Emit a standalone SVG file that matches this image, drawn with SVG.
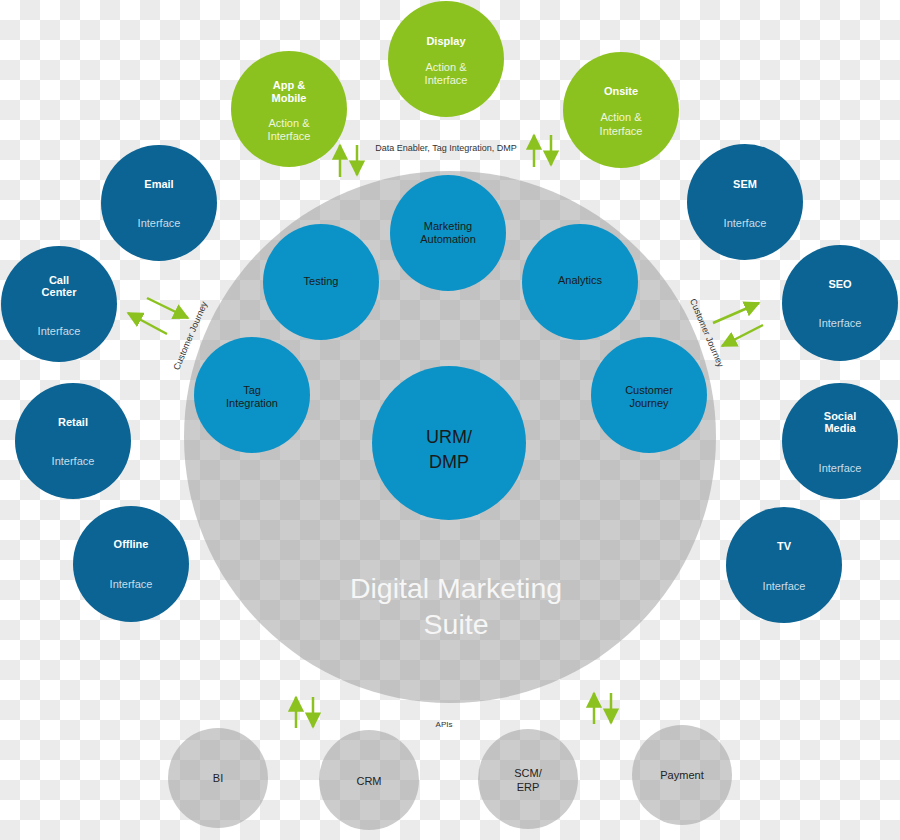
<svg xmlns="http://www.w3.org/2000/svg" width="900" height="840" viewBox="0 0 900 840">
<defs>
<pattern id="checker" x="0" y="0" width="40" height="40" patternUnits="userSpaceOnUse">
<rect width="40" height="40" fill="#ffffff"/>
<rect x="20" y="0" width="20" height="20" fill="#ebebeb"/>
<rect x="0" y="20" width="20" height="20" fill="#ebebeb"/>
</pattern>
<marker id="ah" viewBox="0 0 10 10" refX="9" refY="5" markerWidth="6.5" markerHeight="6.5" orient="auto" markerUnits="strokeWidth">
<path d="M0,0 L10,5 L0,10 z" fill="#8cc21f"/>
</marker>
<style>
text{font-family:"Liberation Sans",Arial,sans-serif;text-anchor:middle}
.suite{fill:#999999;opacity:0.5}
.inner{fill:#0b93c7}
.dark{fill:#0b6493}
.green{fill:#8cc21f}
.sys{fill:#999999;opacity:0.5}
.t-in{font-size:11px;fill:#1a1a1a}
.t-dt{font-size:11px;font-weight:bold;fill:#ffffff}
.t-ds{font-size:11px;fill:#c9dde9}
.t-gt{font-size:11px;font-weight:bold;fill:#ffffff}
.t-gs{font-size:11px;fill:#eef6dc}
.t-sys{font-size:11px;fill:#222222}
.t-lab{font-size:9px;fill:#333333}
.arr{stroke:#8cc21f;stroke-width:2.5;fill:none;marker-end:url(#ah)}
</style>
</defs>
<rect width="900" height="840" fill="url(#checker)"/>

<g id="suite">
<circle class="suite" cx="450" cy="437" r="266"/>
<text x="456" y="598" style="font-size:28.5px;fill:#f6f6f6">Digital Marketing</text>
<text x="456" y="634" style="font-size:28.5px;fill:#f6f6f6">Suite</text>
</g>

<g id="marketing-automation"><circle class="inner" cx="448" cy="233" r="58"/><text class="t-in" x="448" y="230">Marketing</text><text class="t-in" x="448" y="243">Automation</text></g>
<g id="testing"><circle class="inner" cx="321" cy="282" r="58"/><text class="t-in" x="321" y="285">Testing</text></g>
<g id="analytics"><circle class="inner" cx="580" cy="282" r="58"/><text class="t-in" x="580" y="284">Analytics</text></g>
<g id="tag-integration"><circle class="inner" cx="252" cy="395" r="58"/><text class="t-in" x="252" y="394">Tag</text><text class="t-in" x="252" y="407">Integration</text></g>
<g id="customer-journey"><circle class="inner" cx="649" cy="395" r="58"/><text class="t-in" x="649" y="394">Customer</text><text class="t-in" x="649" y="407">Journey</text></g>
<g id="urm-dmp"><circle class="inner" cx="449" cy="443" r="77"/><text x="449" y="443" style="font-size:18px;fill:#1a1a1a">URM/</text><text x="449" y="468" style="font-size:18px;fill:#1a1a1a">DMP</text></g>

<g id="display"><circle class="green" cx="446" cy="59" r="58"/><text class="t-gt" x="446" y="45">Display</text><text class="t-gs" x="446" y="71">Action &amp;</text><text class="t-gs" x="446" y="84">Interface</text></g>
<g id="app-mobile"><circle class="green" cx="289" cy="109" r="58"/><text class="t-gt" x="289" y="89">App &amp;</text><text class="t-gt" x="289" y="102">Mobile</text><text class="t-gs" x="289" y="127">Action &amp;</text><text class="t-gs" x="289" y="140">Interface</text></g>
<g id="onsite"><circle class="green" cx="621" cy="110" r="58"/><text class="t-gt" x="621" y="95">Onsite</text><text class="t-gs" x="621" y="121">Action &amp;</text><text class="t-gs" x="621" y="135">Interface</text></g>

<g id="email"><circle class="dark" cx="159" cy="203" r="58"/><text class="t-dt" x="159" y="188">Email</text><text class="t-ds" x="159" y="227">Interface</text></g>
<g id="call-center"><circle class="dark" cx="59" cy="304" r="58"/><text class="t-dt" x="59" y="284">Call</text><text class="t-dt" x="59" y="296">Center</text><text class="t-ds" x="59" y="335">Interface</text></g>
<g id="retail"><circle class="dark" cx="73" cy="441" r="58"/><text class="t-dt" x="73" y="426">Retail</text><text class="t-ds" x="73" y="465">Interface</text></g>
<g id="offline"><circle class="dark" cx="131" cy="564" r="58"/><text class="t-dt" x="131" y="548">Offline</text><text class="t-ds" x="131" y="588">Interface</text></g>
<g id="sem"><circle class="dark" cx="745" cy="202" r="58"/><text class="t-dt" x="745" y="188">SEM</text><text class="t-ds" x="745" y="227">Interface</text></g>
<g id="seo"><circle class="dark" cx="840" cy="303" r="58"/><text class="t-dt" x="840" y="288">SEO</text><text class="t-ds" x="840" y="327">Interface</text></g>
<g id="social-media"><circle class="dark" cx="840" cy="441" r="58"/><text class="t-dt" x="840" y="420">Social</text><text class="t-dt" x="840" y="432">Media</text><text class="t-ds" x="840" y="472">Interface</text></g>
<g id="tv"><circle class="dark" cx="784" cy="565" r="58"/><text class="t-dt" x="784" y="550">TV</text><text class="t-ds" x="784" y="590">Interface</text></g>

<g id="bi"><circle class="sys" cx="218" cy="778" r="50"/><text class="t-sys" x="218" y="782">BI</text></g>
<g id="crm"><circle class="sys" cx="369" cy="780" r="50"/><text class="t-sys" x="369" y="785">CRM</text></g>
<g id="scm-erp"><circle class="sys" cx="528" cy="779" r="50"/><text class="t-sys" x="528" y="777">SCM/</text><text class="t-sys" x="528" y="791">ERP</text></g>
<g id="payment"><circle class="sys" cx="682" cy="775" r="50"/><text class="t-sys" x="682" y="779">Payment</text></g>

<g id="labels">
<text class="t-lab" x="446" y="151">Data Enabler, Tag Integration, DMP</text>
<text class="t-lab" x="444" y="727" style="font-size:8px">APIs</text>
<text class="t-lab" transform="translate(193,337) rotate(-67)">Customer Journey</text>
<text class="t-lab" transform="translate(704,334) rotate(67)">Customer Journey</text>
</g>

<g id="connectors">
<line class="arr" x1="340" y1="177" x2="340" y2="145"/>
<line class="arr" x1="357" y1="145" x2="357" y2="175"/>
<line class="arr" x1="534" y1="167" x2="534" y2="135"/>
<line class="arr" x1="551" y1="135" x2="551" y2="165"/>
<line class="arr" x1="296" y1="728" x2="296" y2="697"/>
<line class="arr" x1="313" y1="697" x2="313" y2="727"/>
<line class="arr" x1="594" y1="724" x2="594" y2="693"/>
<line class="arr" x1="611" y1="693" x2="611" y2="723"/>
<line class="arr" x1="147" y1="298" x2="188" y2="318"/>
<line class="arr" x1="167" y1="334" x2="128" y2="313"/>
<line class="arr" x1="713" y1="323" x2="759" y2="303"/>
<line class="arr" x1="763" y1="325" x2="722" y2="346"/>
</g>
</svg>
